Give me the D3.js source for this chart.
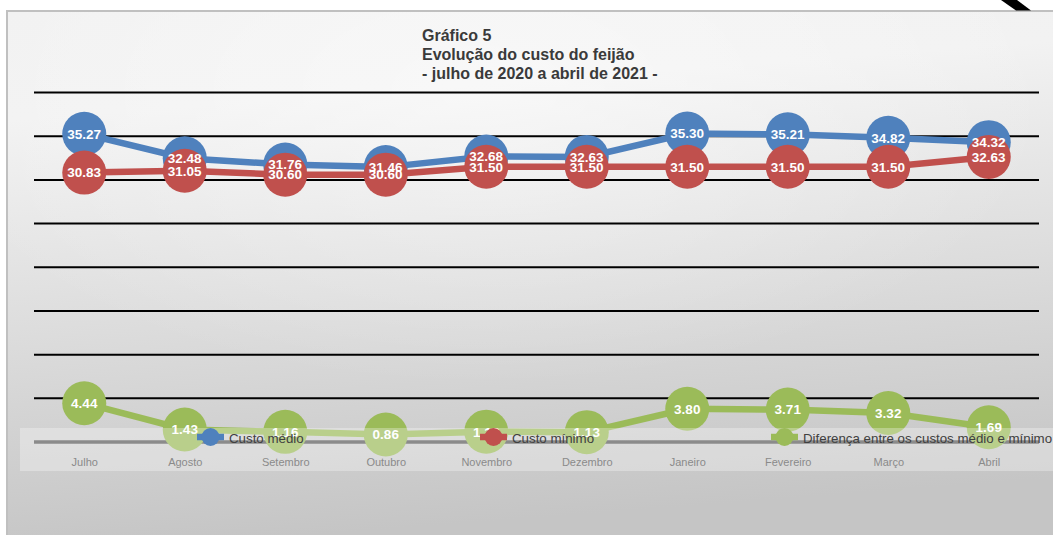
<!DOCTYPE html>
<html><head><meta charset="utf-8">
<script src="https://cdn.jsdelivr.net/npm/d3@7"></script>
<style>html,body{margin:0;padding:0;background:#fff;}svg{display:block;}</style>
</head><body>
<script>
const months = ["Julho","Agosto","Setembro","Outubro","Novembro","Dezembro","Janeiro","Fevereiro","Março","Abril"];
const custoMedio = [35.27,32.48,31.76,31.46,32.68,32.63,35.30,35.21,34.82,34.32];
const custoMinimo = [30.83,31.05,30.60,30.60,31.50,31.50,31.50,31.50,31.50,32.63];
const diferenca = [4.44,1.43,1.16,0.86,1.18,1.13,3.80,3.71,3.32,1.69];
const yTicks = [0,5,10,15,20,25,30,35,40];
const seriesNames = ["Custo médio","Custo mínimo","Diferença entre os custos médio e mínimo"];
const seriesColors = ["#4f81bd","#c0504d","#9bbb59"];
const titleLines = ["Gráfico 5","Evolução do custo do feijão","- julho de 2020 a abril de 2021 -"];

const W = 1053, H = 535;
const svg = d3.select("body").append("svg").attr("width", W).attr("height", H);
const defs = svg.append("defs");
const g1 = defs.append("linearGradient").attr("id","bg").attr("x1",0).attr("y1",0).attr("x2",0.15).attr("y2",1);
g1.append("stop").attr("offset","0%").attr("stop-color","#f1f1f1");
g1.append("stop").attr("offset","20%").attr("stop-color","#f2f2f2");
g1.append("stop").attr("offset","60%").attr("stop-color","#dcdcdc");
g1.append("stop").attr("offset","100%").attr("stop-color","#c5c5c5");
const g2 = defs.append("radialGradient").attr("id","hl").attr("cx","0.45").attr("cy","0.15").attr("r","0.55");
g2.append("stop").attr("offset","0%").attr("stop-color","#ffffff").attr("stop-opacity",0.5);
g2.append("stop").attr("offset","100%").attr("stop-color","#ffffff").attr("stop-opacity",0);

svg.append("rect").attr("x",7).attr("y",11).attr("width",W).attr("height",H).attr("fill","url(#bg)");
svg.append("rect").attr("x",7).attr("y",11).attr("width",W).attr("height",H).attr("fill","url(#hl)");
svg.append("path").attr("d","M7,536 V11 H1053").attr("fill","none").attr("stroke","#c0c0c0").attr("stroke-width",2);
svg.append("polygon").attr("points","1001,0 1017,0 1031,10.5 1016,10.5").attr("fill","#000");

// Title
const title = svg.append("text").attr("x",422).attr("font-family","Liberation Sans, Arial, sans-serif")
  .attr("font-weight","bold").attr("font-size",16).attr("fill","#3a3a3a");
titleLines.forEach((t,i)=> title.append("tspan").attr("x",422).attr("y",40.5+i*19).text(t));

const x = d3.scalePoint().domain(months).range([34,1039]).padding(0.5);
const y = d3.scaleLinear().domain([0,40]).range([442,92.5]);

// gridlines
svg.append("g").selectAll("line").data(yTicks.filter(d=>d>0)).join("line")
  .attr("x1",34).attr("x2",1039).attr("y1",d=>y(d)).attr("y2",d=>y(d))
  .attr("stroke","#000").attr("stroke-width",2);
svg.append("line").attr("x1",34).attr("x2",1039).attr("y1",y(0)).attr("y2",y(0))
  .attr("stroke","#5a5a5a").attr("stroke-width",3.6);

const allSeries = [custoMedio, custoMinimo, diferenca];
const line = d3.line().x((d,i)=>x(months[i])).y(d=>y(d));
allSeries.forEach((s,k)=>{
  svg.append("path").attr("d",line(s)).attr("fill","none").attr("stroke",seriesColors[k]).attr("stroke-width",6.5);
  svg.append("g").selectAll("circle").data(s).join("circle")
    .attr("cx",(d,i)=>x(months[i])).attr("cy",d=>y(d)).attr("r",22).attr("fill",seriesColors[k]);
});
allSeries.forEach((s,k)=>{
  svg.append("g").selectAll("text").data(s).join("text")
    .attr("x",(d,i)=>x(months[i])).attr("y",d=>y(d)).attr("dy","0.36em")
    .attr("text-anchor","middle").attr("font-family","Liberation Sans, Arial, sans-serif")
    .attr("font-weight","bold").attr("font-size",13.5).attr("fill","#fff")
    .text(d=>d.toFixed(2));
});

// legend / axis overlay box
svg.append("rect").attr("x",20).attr("y",428).attr("width",W-20).attr("height",43)
  .attr("fill","#fff").attr("fill-opacity",0.3);

// x axis labels
const ax = svg.append("g").attr("transform","translate(0,466)")
  .call(d3.axisBottom(x).tickSize(0).tickPadding(0));
ax.select(".domain").remove();
ax.selectAll("text").attr("dy",0).attr("y",0).attr("font-family","Liberation Sans, Arial, sans-serif")
  .attr("font-size",11).attr("fill","#8a8a8a");

// legend
const legX = [197, 480, 771];
const leg = svg.append("g");
seriesNames.forEach((n,k)=>{
  const lx = legX[k];
  leg.append("line").attr("x1",lx).attr("x2",lx+27).attr("y1",437).attr("y2",437)
    .attr("stroke",seriesColors[k]).attr("stroke-width",6.5);
  leg.append("circle").attr("cx",lx+13.5).attr("cy",437).attr("r",9).attr("fill",seriesColors[k]);
  leg.append("text").attr("x",lx+32).attr("y",443).attr("font-family","Liberation Sans, Arial, sans-serif")
    .attr("font-size",13.3).attr("fill","#404040").text(n);
});
</script>
</body></html>
